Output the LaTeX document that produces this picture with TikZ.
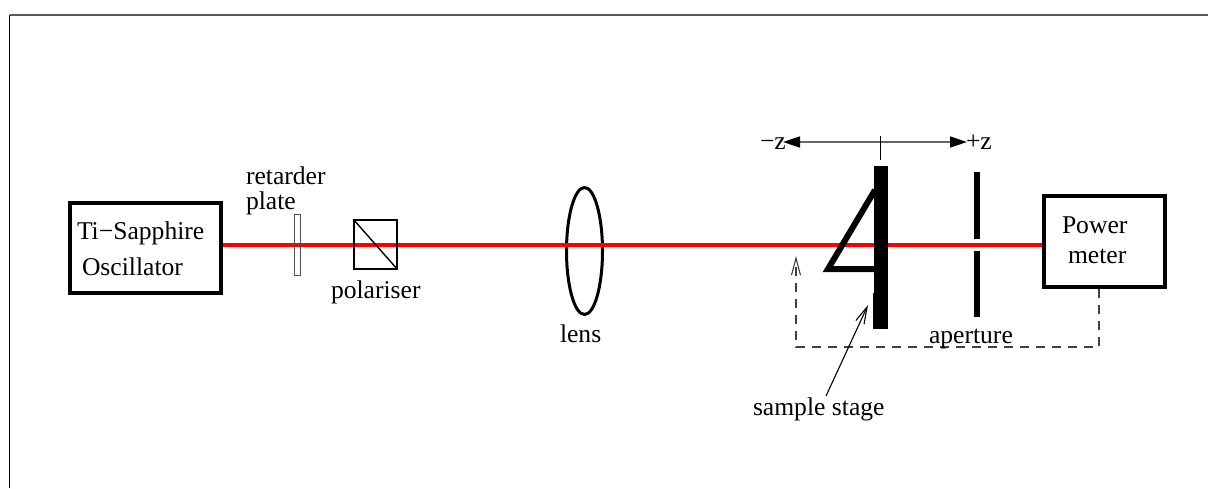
\documentclass[tikz,border=0pt]{standalone}
\usepackage{fontspec}
\setmainfont{Liberation Serif}
\usetikzlibrary{arrows.meta,shapes.geometric}
\definecolor{beam}{RGB}{255,0,0}
\tikzset{
  lbl/.style={anchor=base west,inner sep=0pt,outer sep=0pt,font=\fontsize{25.6}{25.6}\selectfont},
  thickbox/.style={draw=black,line width=4pt,fill=white,inner sep=0pt},
  beamline/.style={draw=beam,line width=4pt},
  heavy/.style={fill=black,draw=none,inner sep=0pt},
  dashline/.style={draw=black!75,line width=1.1pt,dash pattern=on 9pt off 7pt},
  openhead/.style={-{Straight Barb[length=17pt,width=9pt,line width=1.1pt]}},
  zarrow/.style={draw=black!60,line width=1.6pt,{Triangle[black,length=17pt,width=11pt]}-{Triangle[black,length=17pt,width=11pt]}}
}
\begin{document}
\begin{tikzpicture}[x=1pt,y=-1pt]
\useasboundingbox (0,0) rectangle (1208,488);
% frame
\coordinate (fa) at (9.5,488);
\coordinate (fb) at (9.5,15);
\coordinate (fc) at (1208,15);
\draw[black,line width=1.2pt] (fa) -- (fb);
\draw[black!65,line width=1.6pt] (fb) -- (fc);
% boxes
\node[thickbox,minimum width=151pt,minimum height=90pt] (osc) at (145.5,248) {};
\node[thickbox,minimum width=121pt,minimum height=91pt] (pm) at (1104.5,241.5) {};
% lens
\node[draw=black,line width=3pt,ellipse,minimum width=36pt,minimum height=127pt,inner sep=0pt] (lensb) at (584.5,251) {};
% beam
\draw[beamline] (osc.east |- 0,245) -- (pm.west |- 0,245);
% retarder plate
\node[draw=black!70,line width=1pt,minimum width=6pt,minimum height=61pt,inner sep=0pt] (ret) at (297,244.5) {};
% polariser
\node[draw=black,line width=1.4pt,minimum width=43pt,minimum height=49pt,inner sep=0pt] (pol) at (375.5,244.5) {};
\draw[black,line width=1.4pt] (pol.north west) -- (pol.south east);
% sample stage
\node[heavy,minimum width=14pt,minimum height=127pt] (barup) at (880.5,229.5) {};
\node[heavy,minimum width=15pt,minimum height=36pt] (barlo) at (880.5,311) {};
\coordinate (ta) at (875,190);
\coordinate (tb) at (828,269);
\coordinate (tc) at (875,269);
\draw[black,line width=6pt,miter limit=10] (ta) -- (tb) -- (tc);
% aperture
\node[heavy,minimum width=6pt,minimum height=67pt] (apup) at (977,205.5) {};
\node[heavy,minimum width=6pt,minimum height=66pt] (aplo) at (977,284) {};
% z axis
\coordinate (zl) at (783,142);
\coordinate (zr) at (967,142);
\coordinate (tt) at (880.5,136);
\coordinate (tu) at (880.5,160);
\draw[zarrow] (zl) -- (zr);
\draw[black,line width=1pt] (tt) -- (tu);
% feedback
\coordinate (d1) at (1099,289);
\coordinate (d2) at (1099,347);
\coordinate (d3) at (796,347);
\coordinate (d4) at (796,256);
\draw[dashline,openhead] (d1) -- (d2) -- (d3) -- (d4);
% sample stage pointer
\coordinate (sp) at (826,396);
\coordinate (sq) at (868,305);
\draw[black,line width=1.1pt,openhead] (sp) -- (sq);
% labels
\node[lbl] (t1) at (77,239) {Ti−Sapphire};
\node[lbl] (t2) at (82,275) {Oscillator};
\node[lbl] (t3) at (246,184) {retarder};
\node[lbl] (t4) at (246,209) {plate};
\node[lbl] (t5) at (331,298) {polariser};
\node[lbl] (t6) at (560,342) {lens};
\node[lbl] (t7) at (929,343) {aperture};
\node[lbl] (t8) at (753,415) {sample stage};
\node[lbl] (t9) at (1062,233) {Power};
\node[lbl] (t10) at (1068,263) {meter};
\node[lbl] (t11) at (760,149) {−z};
\node[lbl] (t12) at (966,149) {+z};
\end{tikzpicture}
\end{document}
